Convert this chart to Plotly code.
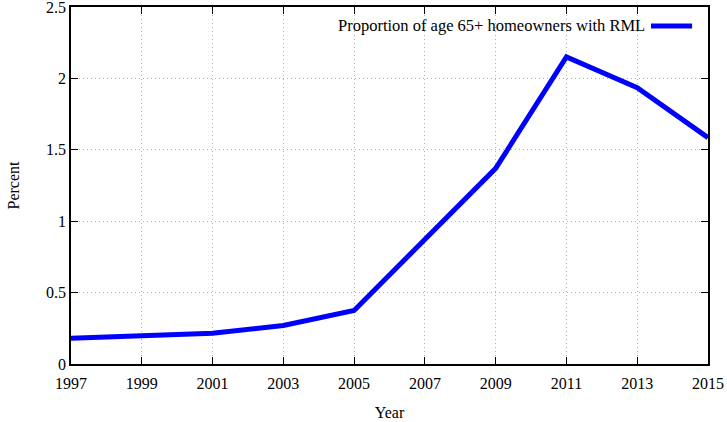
import plotly.graph_objects as go

# Survey years and share of 65+ homeowners holding a reverse mortgage loan (%)
years = [1997, 1999, 2001, 2003, 2005, 2009, 2011, 2013, 2015]
percent = [0.18, 0.195, 0.215, 0.27, 0.375, 1.37, 2.15, 1.935, 1.585]
series_name = "Proportion of age 65+ homeowners with RML"
x_ticks = [1997, 1999, 2001, 2003, 2005, 2007, 2009, 2011, 2013, 2015]
y_ticks = [0, 0.5, 1, 1.5, 2, 2.5]
y_labels = ["0", "0.5", "1", "1.5", "2", "2.5"]

font_family = "Liberation Serif, Times New Roman, serif"

fig = go.Figure()
fig.add_trace(go.Scatter(
    x=years, y=percent, mode="lines", name=series_name,
    line=dict(color="#0000ff", width=5), showlegend=False,
))

axis_common = dict(
    showline=True, linecolor="black", linewidth=1.5, mirror="allticks",
    ticks="inside", ticklen=7, tickwidth=1.2, tickcolor="black",
    showgrid=True, gridcolor="#b0b0b0", griddash="1px,3px", gridwidth=1,
    zeroline=False, automargin=False, ticklabeloverflow="allow",
    tickfont=dict(family=font_family, size=16, color="black"),
)

fig.update_xaxes(
    range=[1997, 2015], tickvals=x_ticks, ticktext=[str(v) for v in x_ticks],
    ticklabelstandoff=4,
    title=dict(text="Year", font=dict(family=font_family, size=16, color="black"), standoff=16),
    **axis_common,
)
fig.update_yaxes(
    range=[0, 2.5], tickvals=y_ticks, ticktext=y_labels,
    title=dict(text="Percent", font=dict(family=font_family, size=16, color="black"), standoff=22),
    **axis_common,
)

# Key in the upper right: label followed by a line sample
fig.add_annotation(
    x=0.905, y=0.947, xref="paper", yref="paper", xanchor="right", yanchor="middle",
    text=series_name, showarrow=False,
    font=dict(family=font_family, size=16.5, color="black"),
)
fig.add_shape(
    type="line", xref="paper", yref="paper",
    x0=0.9105, x1=0.975, y0=0.947, y1=0.947,
    line=dict(color="#0000ff", width=5),
)

fig.update_layout(
    width=727, height=422,
    margin=dict(l=71, r=19, t=7, b=58, autoexpand=False),
    paper_bgcolor="white", plot_bgcolor="white",
    font=dict(family=font_family, size=16, color="black"),
)

fig.write_html("out.html")
